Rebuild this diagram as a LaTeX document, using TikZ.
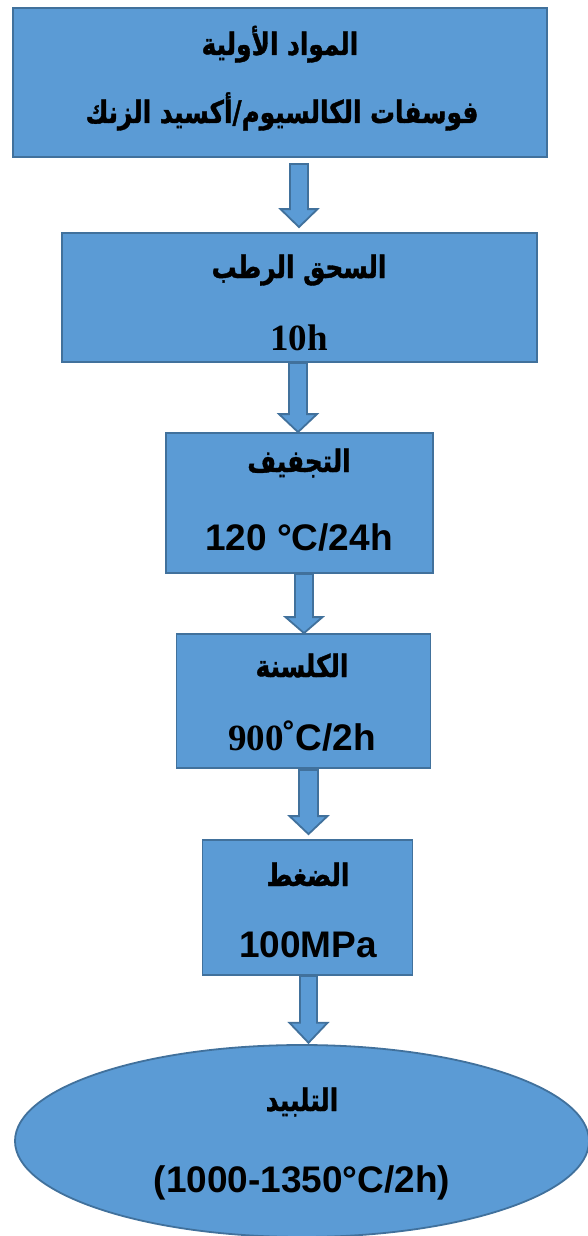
\documentclass[tikz,border=0pt]{standalone}
\usepackage{fontspec}
\setmainfont{Liberation Serif}
\newfontfamily\arabicfont[Script=Arabic,FakeStretch=0.8,BoldFeatures={FakeBold=1.2}]{DejaVu Sans}
\newfontfamily\arialfont{Liberation Sans}
\newfontfamily\timesfont{Liberation Serif}
\TeXXeTstate=1
\usetikzlibrary{calc}
\definecolor{boxfill}{HTML}{5B9BD5}
\definecolor{boxline}{HTML}{41719C}
\tikzset{
  stepbox/.style={draw=boxline, fill=boxfill, line width=1.8pt, inner sep=0pt},
  arlabel/.style={anchor=base, inner sep=0pt, font=\arabicfont\bfseries\fontsize{31}{36}\selectfont},
  serlabel/.style={anchor=base, inner sep=0pt, font=\timesfont\bfseries\fontsize{37}{44}\selectfont},
  sanlabel/.style={anchor=base, inner sep=0pt, font=\arialfont\bfseries\fontsize{37}{44}\selectfont},
  barrow/.style={draw=boxline, fill=boxfill, line width=1.8pt, line join=miter},
}
% from, to, xc, half shaft, half head, head length, top gap, bottom gap
\newcommand\blockarrow[8]{%
  \path[barrow] let \p1=(#1.south), \p2=(#2.north) in
    ({#3pt-#4pt},{\y1-#7pt}) -- ({#3pt+#4pt},{\y1-#7pt}) --
    ({#3pt+#4pt},{\y2+#8pt+#6pt}) -- ({#3pt+#5pt},{\y2+#8pt+#6pt}) --
    ({#3pt},{\y2+#8pt}) -- ({#3pt-#5pt},{\y2+#8pt+#6pt}) --
    ({#3pt-#4pt},{\y2+#8pt+#6pt}) -- cycle;}
\begin{document}
\begin{tikzpicture}[x=1pt,y=-1pt]
\useasboundingbox[fill=white] (0,0) rectangle (588,1236);
% boxes
\node[stepbox, minimum width=534pt, minimum height=149pt] (b1) at (280,82.5) {};
\node[stepbox, minimum width=475pt, minimum height=129pt] (b2) at (299.5,297.5) {};
\node[stepbox, minimum width=267pt, minimum height=140pt] (b3) at (299.5,503) {};
\node[stepbox, minimum width=254pt, minimum height=134pt] (b4) at (303.5,701) {};
\node[stepbox, minimum width=210pt, minimum height=135pt] (b5) at (307.5,907.5) {};
\draw[stepbox] (302,1141) ellipse [x radius=287, y radius=96];
\coordinate (el) at (302,1045);
\node[inner sep=0pt, minimum size=0pt] (b6) at (el) {};
% arrows
\blockarrow{b1}{b2}{299}{9}{18.5}{18}{6}{5}
\blockarrow{b2}{b3}{298}{9}{19}{18}{0}{0}
\blockarrow{b3}{b4}{304}{9}{18.5}{16}{0}{0}
\blockarrow{b4}{b5}{308.5}{9.5}{19}{18}{1}{5}
\blockarrow{b5}{b6}{308.5}{8.5}{19}{20}{0}{2}
% labels
\node[arlabel] (t1a) at (280,55) {\beginR المواد الأولية\endR};
\node[arlabel] (t1b) at (282,123) {\beginR فوسفات الكالسيوم/أكسيد الزنك\endR};
\node[arlabel] (t2a) at (299,278) {\beginR السحق الرطب\endR};
\node[serlabel] (t2b) at (299,350) {10h};
\node[arlabel] (t3a) at (299,472) {\beginR التجفيف\endR};
\node[sanlabel] (t3b) at (299,550) {120 °C/24h};
\node[arlabel] (t4a) at (302,677) {\beginR الكلسنة\endR};
\node[serlabel] (t4b) at (302,750) {900{\arialfont˚C/2h}};
\node[arlabel] (t5a) at (308,886) {\beginR الضغط\endR};
\node[sanlabel] (t5b) at (308,957) {100MPa};
\node[arlabel] (t6a) at (302,1111) {\beginR التلبيد\endR};
\node[sanlabel] (t6b) at (302,1192) {(1000-1350°C/2h)};
\end{tikzpicture}
\end{document}
